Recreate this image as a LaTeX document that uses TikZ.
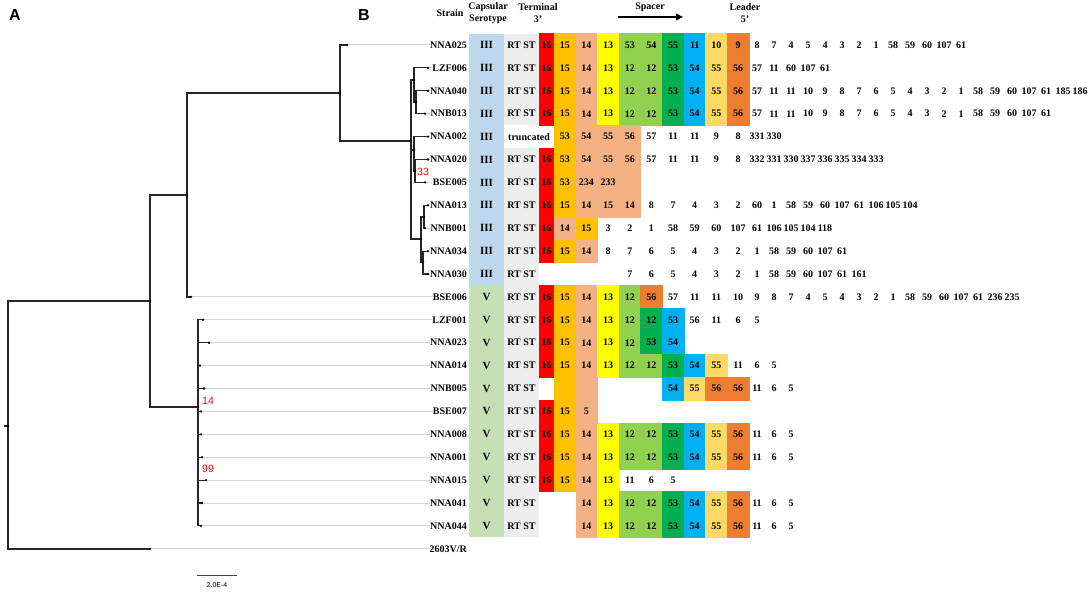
\documentclass[tikz,border=0pt]{standalone}
\usepackage{fontspec}
\setmainfont{Liberation Serif}
\newfontfamily\arialfont{Liberation Sans}
\usepackage{xcolor}
\usetikzlibrary{arrows.meta,positioning}

\definecolor{serIII}{HTML}{BDD7EE}
\definecolor{serV}{HTML}{C5E0B4}
\definecolor{rtst}{HTML}{EDEDED}
\definecolor{cRed}{HTML}{FF0000}
\definecolor{cGold}{HTML}{FFC000}
\definecolor{cSalmon}{HTML}{F4B183}
\definecolor{cYellow}{HTML}{FFFF00}
\definecolor{cLime}{HTML}{92D050}
\definecolor{cGreen}{HTML}{00B050}
\definecolor{cBlue}{HTML}{00B0F0}
\definecolor{cCream}{HTML}{FFD966}
\definecolor{cOrange}{HTML}{ED7D31}
\definecolor{leafgray}{HTML}{D6D6D6}

% spacer cells of one row: col/colour/text
\newcommand\spcells[2]{%
  \foreach \c/\cc/\t in {#2}{
    \pgfmathsetmacro\xl{\c==0 ? 539 : 554+21.65*(\c-1)}
    \pgfmathsetmacro\xr{554+21.65*\c}
    \path[fill=\cc, draw=\cc, line width=0.3pt] (\xl,{45+22.9*#1-11.45}) rectangle (\xr,{45+22.9*#1+11.45});
    \node[num] (c#1-\c) at ({(\xl+\xr)/2},{45+22.9*#1}) {\t};
  }}
% spacers after the leader end
\newcommand\spctrail[2]{%
  \foreach \n [count=\j from 0] in {#2}{
    \node[num] (t#1-\j) at ({757+17*\j},{45+22.9*#1}) {\n};
  }}

\begin{document}
\begin{tikzpicture}[x=1pt, y=-1pt,
    strain/.style={anchor=east, inner sep=0pt, font=\bfseries\fontsize{10}{12}\selectfont},
    num/.style={inner sep=0pt, font=\bfseries\fontsize{10}{12}\selectfont},
    head/.style={inner sep=0pt, align=center, font=\bfseries\fontsize{10}{12}\selectfont},
    panel/.style={inner sep=0pt, font=\arialfont\bfseries\fontsize{16}{16}\selectfont},
    boot/.style={inner sep=0pt, text=red, font=\arialfont\fontsize{10.5}{11}\selectfont},
    branch/.style={draw=black!85, line width=1.5pt},
    leaf/.style={draw=leafgray, line width=1pt}]
\useasboundingbox[fill=white] (0,0) rectangle (1091,591);

% panel letters and header
\node[panel] (pA) at (15,15) {A};
\node[panel] (pB) at (364,15) {B};
\node[head] (hStrain) at (450,13) {Strain};
\node[head] (hSero) at (488,13) {Capsular\\Serotype};
\node[head] (hTerm) at (538,13) {Terminal\\3'};
\node[head] (hSpacer) at (650,7) {Spacer};
\node[head] (hLeader) at (745,13) {Leader\\5'};
\coordinate (spA) at (618,17);
\coordinate (spB) at (683,17);
\draw[line width=1.8pt, -{Triangle[length=7pt,width=6.5pt]}] (spA) -- (spB);

% serotype and RT ST columns
\fill[serIII] (469,33.55) rectangle (504,{45+22.9*10+11.45});
\fill[serV] (469,{45+22.9*11-11.45}) rectangle (504,{45+22.9*21+11.45});
\fill[rtst] (504,33.55) rectangle (539,{45+22.9*3+11.45});
\fill[rtst] (504,{45+22.9*5-11.45}) rectangle (539,{45+22.9*21+11.45});

\foreach \s [count=\k from 0] in {NNA025,LZF006,NNA040,NNB013,NNA002,NNA020,BSE005,NNA013,NNB001,NNA034,NNA030,BSE006,LZF001,NNA023,NNA014,NNB005,BSE007,NNA008,NNA001,NNA015,NNA041,NNA044}{
  \node[strain] (\s) at (467,{45+22.9*\k}) {\s};
  \ifnum\k<11
    \node[num, font=\bfseries\fontsize{11}{12}\selectfont] (sero\k) at (486.5,{45+22.9*\k}) {III};
  \else
    \node[num, font=\bfseries\fontsize{11}{12}\selectfont] (sero\k) at (486.5,{45+22.9*\k}) {V};
  \fi
  \ifnum\k=4
    \node[num] (rt\k) at (529,{45+22.9*\k}) {truncated};
  \else
    \node[num] (rt\k) at (521.5,{45+22.9*\k}) {RT ST};
  \fi
}
\node[strain] (out) at (467,{45+22.9*22}) {2603V/R};

% CRISPR spacers
\spcells{0}{0/cRed/16,1/cGold/15,2/cSalmon/14,3/cYellow/13,4/cLime/53,5/cLime/54,6/cGreen/55,7/cBlue/11,8/cCream/10,9/cOrange/9}
\spctrail{0}{8,7,4,5,4,3,2,1,58,59,60,107,61}
\foreach \r in {1,2,3,17,18}{
  \spcells{\r}{0/cRed/16,1/cGold/15,2/cSalmon/14,3/cYellow/13,4/cLime/12,5/cLime/12,6/cGreen/53,7/cBlue/54,8/cCream/55,9/cOrange/56}
}
\spctrail{1}{57,11,60,107,61}
\spctrail{2}{57,11,11,10,9,8,7,6,5,4,3,2,1,58,59,60,107,61,185,186}
\spctrail{3}{57,11,11,10,9,8,7,6,5,4,3,2,1,58,59,60,107,61}
\spcells{4}{1/cGold/53,2/cSalmon/54,3/cSalmon/55,4/cSalmon/56,5/none/57,6/none/11,7/none/11,8/none/9,9/none/8}
\spctrail{4}{331,330}
\spcells{5}{0/cRed/16,1/cGold/53,2/cSalmon/54,3/cSalmon/55,4/cSalmon/56,5/none/57,6/none/11,7/none/11,8/none/9,9/none/8}
\spctrail{5}{332,331,330,337,336,335,334,333}
\spcells{6}{0/cRed/16,1/cGold/53,2/cSalmon/234,3/cSalmon/233,4/cSalmon/{}}
\spcells{7}{0/cRed/16,1/cGold/15,2/cSalmon/14,3/cSalmon/15,4/cSalmon/14,5/none/8,6/none/7,7/none/4,8/none/3,9/none/2}
\spctrail{7}{60,1,58,59,60,107,61,106,105,104}
\spcells{8}{0/cRed/16,1/cSalmon/14,2/cGold/15,3/none/3,4/none/2,5/none/1,6/none/58,7/none/59,8/none/60,9/none/107}
\spctrail{8}{61,106,105,104,118}
\spcells{9}{0/cRed/16,1/cGold/15,2/cSalmon/14,3/none/8,4/none/7,5/none/6,6/none/5,7/none/4,8/none/3,9/none/2}
\spctrail{9}{1,58,59,60,107,61}
\spcells{10}{4/none/7,5/none/6,6/none/5,7/none/4,8/none/3,9/none/2}
\spctrail{10}{1,58,59,60,107,61,161}
\spcells{11}{0/cRed/16,1/cGold/15,2/cSalmon/14,3/cYellow/13,4/cLime/12,5/cOrange/56,6/none/57,7/none/11,8/none/11,9/none/10}
\spctrail{11}{9,8,7,4,5,4,3,2,1,58,59,60,107,61,236,235}
\spcells{12}{0/cRed/16,1/cGold/15,2/cSalmon/14,3/cYellow/13,4/cLime/12,5/cGreen/12,6/cBlue/53,7/none/56,8/none/11,9/none/6}
\spctrail{12}{5}
\spcells{13}{0/cRed/16,1/cGold/15,2/cSalmon/14,3/cYellow/13,4/cLime/12,5/cGreen/53,6/cBlue/54}
\spcells{14}{0/cRed/16,1/cGold/15,2/cSalmon/14,3/cYellow/13,4/cLime/12,5/cLime/12,6/cGreen/53,7/cBlue/54,8/cCream/55,9/none/11}
\spctrail{14}{6,5}
\spcells{15}{1/cGold/{},2/cSalmon/{},6/cBlue/54,7/cCream/55,8/cOrange/56,9/cOrange/56}
\spctrail{15}{11,6,5}
\spcells{16}{0/cRed/16,1/cGold/15,2/cSalmon/5}
\spctrail{17}{11,6,5}
\spctrail{18}{11,6,5}
\spcells{19}{0/cRed/16,1/cGold/15,2/cSalmon/14,3/cYellow/13,4/none/11,5/none/6,6/none/5}
\foreach \r in {20,21}{
  \spcells{\r}{2/cSalmon/14,3/cYellow/13,4/cLime/12,5/cLime/12,6/cGreen/53,7/cBlue/54,8/cCream/55,9/cOrange/56}
  \spctrail{\r}{11,6,5}
}

% tree
\coordinate (root) at (8,426);
\coordinate (rootstub) at (4,426);
\coordinate (n1) at (150,301);
\coordinate (nA) at (187,195);
\coordinate (nB) at (340,93);
\coordinate (nC) at (411,141);
\coordinate (nC1) at (414,80);
\coordinate (nC1b) at (416,102);
\coordinate (nC2) at (414,150);
\coordinate (nC2b) at (415,171);
\coordinate (nC3) at (421,239);
\coordinate (nC3a) at (424,217);
\coordinate (nC3b) at (423,262);
\coordinate (nV) at (198,407);
\foreach \s/\x in {NNA025/347,LZF006/428,NNA040/428,NNB013/425,NNA002/428,NNA020/428,BSE005/425,NNA013/428,NNB001/425,NNA034/428,NNA030/428,BSE006/191,LZF001/203,NNA023/209,NNA014/200,NNB005/204,BSE007/201,NNA008/201,NNA001/202,NNA015/206,NNA041/202,NNA044/201}{
  \coordinate (t\s) at (\x,0 |- \s);
  \draw[leaf] (t\s) -- (\s.west);
}
\coordinate (tout) at (150,0 |- out);
\draw[leaf] (tout) -- (out.west);

\draw[branch] (rootstub) -- (root);
\draw[branch] (root) |- (n1);
\draw[branch] (root) |- (tout);
\draw[branch] (n1) |- (nA);
\draw[branch] (n1) |- (nV);
\draw[branch] (nA) |- (nB);
\draw[branch] (nA) |- (tBSE006);
\draw[branch] (nB) |- (tNNA025);
\draw[branch] (nB) |- (nC);
\foreach \a/\b in {nC/nC1,nC/nC2,nC/nC3,nC1/tLZF006,nC1/nC1b,nC1b/tNNA040,nC1b/tNNB013,nC2/tNNA002,nC2/nC2b,nC2b/tNNA020,nC2b/tBSE005,nC3/nC3a,nC3/nC3b,nC3a/tNNA013,nC3a/tNNB001,nC3b/tNNA034,nC3b/tNNA030}{
  \draw[branch, line width=1.1pt] (\a) |- (\b);
}
\foreach \s in {LZF001,NNA023,NNA014,NNB005,BSE007,NNA008,NNA001,NNA015,NNA041,NNA044}{
  \draw[branch, line width=1.1pt] (nV) |- (t\s);
}
\foreach \p in {root,n1,nA,nB,nC,nC1,nC1b,nC2,nC2b,nC3,nC3a,nC3b,nV,tout,tNNA025,tLZF006,tNNA040,tNNB013,tNNA002,tNNA020,tBSE005,tNNA013,tNNB001,tNNA034,tNNA030,tBSE006,tLZF001,tNNA023,tNNA014,tNNB005,tBSE007,tNNA008,tNNA001,tNNA015,tNNA041,tNNA044}{
  \fill (\p) circle (1.3);
}

% bootstrap values
\node[boot] (bs33) at (423,172) {33};
\node[boot] (bs14) at (208,401) {14};
\node[boot] (bs99) at (208,469) {99};

% scale bar
\coordinate (sb0) at (197,575);
\coordinate (sb1) at (237,575);
\draw[line width=0.8pt, black!75] (sb0) -- (sb1);
\node[inner sep=0pt, font=\arialfont\fontsize{7}{7}\selectfont] (sblabel) at (217,585) {2.0E-4};
\end{tikzpicture}
\end{document}
